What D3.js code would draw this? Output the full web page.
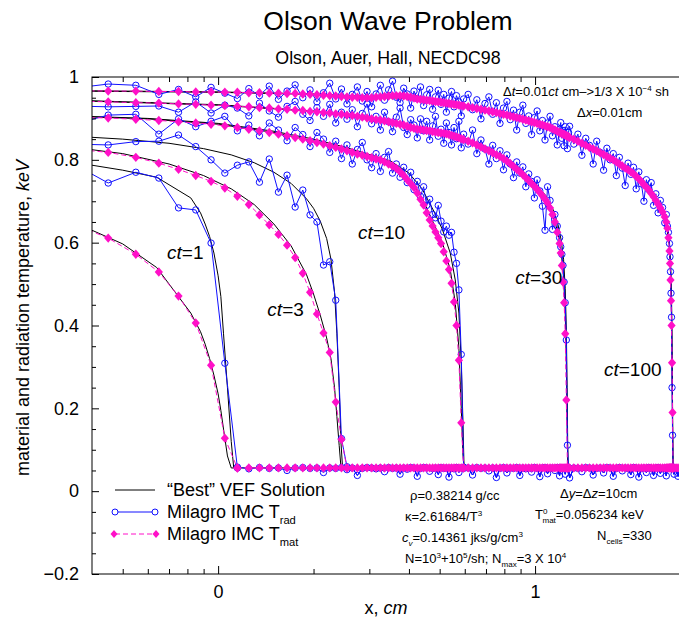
<!DOCTYPE html>
<html>
<head>
<meta charset="utf-8">
<script src="https://d3js.org/d3.v7.min.js"></script>
<style type="text/css">
body { margin: 0; background: #fff; }
text { font-family: "Liberation Sans", Arial, Helvetica, sans-serif; fill: #000; }
.vef { stroke: #000; stroke-width: 1; fill: none; }
.rad { stroke: #1010ff; stroke-width: 1; fill: none; }
.mat { stroke: #ff10c8; stroke-width: 1; fill: none; stroke-dasharray: 5,3; }
</style>
</head>
<body>
<script type="text/javascript">
// cell centres used for the Milagro points (cm)
var xs = [0.35,0.45,0.55,0.65,0.75,0.85,0.95,1.05,1.15,1.25,
	1.35,1.45,1.55,1.65,1.75,1.85,1.95,2.05,2.15,2.25,
	2.35,2.45,2.55,2.65,2.75,2.85,2.95,3.05,3.15,3.25,
	3.35,3.45,3.55,3.65,3.75,3.85,3.95,4.05,4.15,4.25,
	4.35,4.45,4.55,4.65,4.75,4.85,4.95,5.05,5.15,5.25,
	5.35,5.45,5.55,5.65,5.75,5.85,5.95,
	6.15,6.35,6.55,6.75,6.95,7.15,7.35,7.55,7.75,7.95,
	8.15,8.35,8.55,8.75,8.95,9.15,9.35,9.55,9.75,9.95,
	10.15,10.35,10.55,10.75,10.95,11.15,11.35,11.55,11.75,11.95,
	12.05,12.15,12.25,12.35,12.45,12.55,12.65,12.75,12.85,
	13.25,13.65,14.05,14.45,14.85,15.25,15.65,16.05,16.45,16.85,
	17.25,17.65,18.05,18.45,18.85,19.25,19.65,20.05,20.45,20.85,
	21.25,21.65,22.05,22.45,22.85,23.25,23.65,24.05,24.45,24.85,
	25.25,25.65,
	25.95,26.15,26.35,26.55,26.65,26.75,26.85,26.95,27.05,27.15,
	27.25,27.45,27.85,28.25,28.65,29.05];

// Milagro T_mat, one value per cell up to the front
var mat1 = [0.645,0.611,0.572,0.529,0.471,0.406,0.304,0.128,0.056];
var mat3 = [0.826,0.818,0.806,0.792,0.777,0.762,0.748,0.732,0.712,0.692,
	0.667,0.643,0.620,0.594,0.564,0.526,0.480,0.428,0.382,0.335,
	0.215,0.125,0.056];
var mat10 = [0.903,0.901,0.898,0.895,0.892,0.889,0.886,0.882,0.878,0.874,
	0.870,0.866,0.862,0.858,0.854,0.850,0.846,0.842,0.838,0.834,
	0.830,0.826,0.822,0.818,0.814,0.811,0.808,0.805,0.802,0.800,
	0.795,0.790,0.785,0.779,0.771,0.762,0.752,0.743,0.733,0.720,
	0.705,0.691,0.672,0.655,0.640,0.626,0.612,0.598,0.578,0.556,
	0.535,0.502,0.457,0.400,0.316,0.165,0.056];
var mat30 = [0.942,0.940,0.938,0.937,0.935,0.934,0.932,0.931,0.929,0.928,
	0.926,0.925,0.923,0.922,0.920,0.919,0.917,0.916,0.914,0.913,
	0.911,0.910,0.908,0.907,0.905,0.903,0.901,0.899,0.897,0.896,
	0.894,0.892,0.890,0.888,0.886,0.884,0.881,0.878,0.876,0.874,
	0.873,0.872,0.871,0.870,0.868,0.867,0.866,0.865,0.864,0.863,
	0.861,0.859,0.857,0.855,0.853,0.851,0.849,
	0.845,0.841,0.836,0.831,0.826,0.822,0.817,0.812,0.808,0.803,
	0.797,0.791,0.784,0.777,0.771,0.764,0.757,0.750,0.743,0.736,
	0.729,0.721,0.713,0.705,0.696,0.684,0.668,0.650,0.625,0.598,
	0.575,0.545,0.505,0.455,0.380,0.220,0.056];
var mat100 = [0.967,0.966,0.966,0.965,0.965,0.964,0.964,0.963,0.963,0.962,
	0.962,0.961,0.961,0.960,0.960,0.959,0.958,0.957,0.956,0.955,
	0.954,0.953,0.952,0.951,0.951,0.950,0.950,0.950,0.951,0.952,
	0.953,0.954,0.955,0.955,0.955,0.954,0.953,0.951,0.949,0.947,
	0.946,0.945,0.944,0.943,0.942,0.941,0.940,0.939,0.938,0.937,
	0.936,0.935,0.934,0.933,0.932,0.931,0.930,
	0.928,0.926,0.924,0.922,0.920,0.918,0.916,0.914,0.912,0.910,
	0.908,0.906,0.904,0.902,0.900,0.898,0.896,0.894,0.892,0.890,
	0.888,0.886,0.884,0.882,0.880,0.878,0.875,0.872,0.869,0.866,
	0.865,0.864,0.862,0.861,0.860,0.858,0.857,0.856,0.854,
	0.850,0.845,0.840,0.835,0.830,0.826,0.822,0.817,0.813,0.808,
	0.804,0.800,0.795,0.790,0.785,0.780,0.776,0.771,0.766,0.760,
	0.754,0.747,0.740,0.734,0.727,0.719,0.711,0.702,0.693,0.684,
	0.674,0.662,
	0.650,0.635,0.612,0.580,0.550,0.510,0.460,0.400,0.310,0.190,0.056];

// Milagro T_rad
var rad1 = [0.790,0.744,0.770,0.756,0.684,0.679,0.599,0.309,0.058];
var rad3 = [0.838,0.836,0.844,0.845,0.860,0.832,0.800,0.768,0.787,0.795,
	0.746,0.802,0.722,0.763,0.686,0.727,0.667,0.650,0.546,0.554,
	0.461,0.127,0.059];
var rad10 = [0.886,0.908,0.910,0.862,0.899,0.880,0.893,0.905,0.870,0.884,
	0.858,0.889,0.872,0.846,0.878,0.861,0.832,0.866,0.850,0.818,
	0.845,0.803,0.836,0.790,0.825,0.842,0.800,0.781,0.815,0.772,
	0.806,0.820,0.768,0.790,0.758,0.782,0.745,0.770,0.728,0.748,
	0.712,0.735,0.690,0.705,0.668,0.660,0.690,0.652,0.626,0.640,
	0.618,0.625,0.577,0.550,0.486,0.330,0.058];
var rad30 = [0.930,0.928,0.929,0.930,0.915,0.940,0.913,0.932,0.925,0.906,
	0.937,0.918,0.903,0.929,0.941,0.910,0.895,0.926,0.905,0.934,
	0.889,0.915,0.898,0.921,0.880,0.912,0.935,0.887,0.905,0.872,
	0.915,0.892,0.868,0.903,0.925,0.878,0.861,0.897,0.884,0.853,
	0.899,0.870,0.893,0.848,0.882,0.905,0.857,0.874,0.840,0.889,
	0.866,0.836,0.878,0.851,0.893,0.829,0.862,
	0.838,0.872,0.815,0.848,0.826,0.790,0.835,0.803,0.822,0.776,
	0.812,0.790,0.757,0.795,0.768,0.783,0.735,0.766,0.748,0.708,
	0.752,0.725,0.688,0.630,0.735,0.702,0.632,0.668,0.640,0.612,
	0.590,0.572,0.545,0.505,0.455,0.365,0.111];
var rad100 = [0.973,0.983,0.980,0.958,0.970,0.952,0.975,0.961,0.948,0.972,
	0.955,0.978,0.946,0.966,0.981,0.950,0.969,0.940,0.962,0.985,
	0.947,0.971,0.935,0.958,0.976,0.942,0.965,0.928,0.959,0.980,
	0.944,0.969,0.990,0.951,0.938,0.973,0.959,0.925,0.966,0.948,
	0.976,0.931,0.957,0.970,0.922,0.952,0.968,0.934,0.958,0.915,
	0.949,0.965,0.928,0.955,0.940,0.906,0.947,
	0.958,0.921,0.945,0.899,0.936,0.952,0.910,0.938,0.888,0.925,
	0.941,0.897,0.920,0.872,0.915,0.932,0.888,0.906,0.861,0.902,
	0.918,0.870,0.895,0.848,0.889,0.905,0.858,0.880,0.836,0.874,
	0.890,0.852,0.871,0.834,0.880,0.860,0.827,0.866,0.881,
	0.838,0.862,0.811,0.852,0.835,0.790,0.845,0.818,0.775,0.828,
	0.800,0.815,0.762,0.806,0.780,0.738,0.792,0.765,0.782,0.730,
	0.771,0.742,0.700,0.752,0.728,0.745,0.690,0.718,0.672,0.702,
	0.685,0.648,
	0.668,0.640,0.625,0.598,0.566,0.530,0.478,0.420,0.250,0.135,0.058];

// unheated medium ahead of the fronts (cells from x = 1.15 on)
var T0mat = 0.056234;
var tailRad = [0.056,0.054,0.057,0.055,0.056,0.050,0.056,0.057,0.055,0.056,
	0.045,0.056,0.055,0.057,0.052,0.056,0.038,0.055,0.057,0.056,
	0.054,0.056,0.047,0.057,0.055,0.056,0.041,0.056,0.053,0.057,
	0.056,0.036,0.055,0.057,0.056,0.048,0.055,0.056,0.040,0.057,
	0.055,0.056,0.034,0.056,0.054,0.057,0.045,0.056,0.055,0.056,
	0.039,0.057,0.055,0.056,0.049,0.056,0.033,0.055,0.057,0.044,
	0.056,0.055,0.057,0.038,0.056,0.054,0.056,0.046,0.057,0.055,
	0.035,0.056,0.057,0.042,0.055,0.056,0.050,0.057,0.037,0.056,
	0.055,0.057,0.056,0.041,0.055,0.056,0.057,0.032,0.056,0.055,
	0.047,0.057,0.056,0.039,0.055,0.056,0.044,0.057,0.056,0.036,
	0.055,0.057,0.049,0.056,0.055,0.040,0.057,0.056,0.034,0.055,
	0.056,0.045,0.057,0.055,0.038,0.056,0.057,0.043,0.055,0.056,
	0.037,0.056,0.055,0.057,0.056,0.055,0.057,0.056,0.055,0.057,
	0.056,0.041,0.055,0.036,0.056,0.057];

// "Best" VEF solution (T_rad and T_mat)
var vefX1 = [0.35,0.4,0.5,0.64,0.82,0.88,0.91,0.94,0.97,1.0,1.02,1.04,1.07,1.1,1.12];
var vefRad1 = [0.800,0.787,0.775,0.758,0.708,0.672,0.645,0.615,0.575,0.520,0.470,0.380,0.250,0.120,0.056];
var vefMat1 = [0.648,0.630,0.597,0.540,0.430,0.385,0.355,0.320,0.280,0.235,0.195,0.150,0.085,0.056,0.056];
var vefX3 = [0.35,0.5,0.7,0.9,1.1,1.3,1.5,1.7,1.9,2.0,2.1,2.2,2.27,2.33,2.37,2.41,2.44,2.47];
var vefRad3 = [0.857,0.850,0.840,0.827,0.812,0.793,0.770,0.743,0.706,0.683,0.652,0.610,0.560,0.480,0.380,0.250,0.120,0.056];
var vefMat3 = [0.830,0.815,0.790,0.762,0.730,0.692,0.645,0.592,0.523,0.476,0.425,0.370,0.320,0.250,0.180,0.110,0.060,0.056];
var vefX10 = [0.35,0.6,1,1.5,2,2.5,3,3.5,4,4.4,4.8,5.1,5.4,5.6,5.75,5.85,5.92,5.97];
var vefRad10 = [0.906,0.900,0.888,0.869,0.850,0.831,0.813,0.797,0.768,0.730,0.675,0.632,0.575,0.510,0.430,0.310,0.170,0.056];
var vefMat10 = [0.905,0.899,0.886,0.866,0.846,0.826,0.808,0.790,0.755,0.708,0.645,0.600,0.535,0.455,0.345,0.200,0.090,0.056];
var vefX30 = [0.35,1,2,3,4,5,6,7,8,9,10,10.8,11.4,11.8,12.1,12.3,12.45,12.55,12.62,12.7];
var vefRad30 = [0.944,0.933,0.918,0.902,0.883,0.869,0.853,0.830,0.807,0.778,0.744,0.714,0.680,0.645,0.605,0.560,0.490,0.390,0.250,0.056];
var vefMat30 = [0.943,0.932,0.917,0.900,0.880,0.866,0.850,0.826,0.802,0.772,0.736,0.703,0.665,0.625,0.575,0.515,0.430,0.310,0.170,0.056];
var vefX100 = [0.35,1,2,3,4,5,6,8,10,12,14,16,18,20,22,24,25,26,26.5,26.8,27.0,27.1,27.25];
var vefRad100 = [0.967,0.964,0.959,0.953,0.949,0.941,0.932,0.912,0.893,0.870,0.845,0.821,0.800,0.777,0.751,0.713,0.690,0.652,0.612,0.545,0.430,0.290,0.056];
var vefMat100 = [0.966,0.963,0.958,0.952,0.948,0.940,0.931,0.911,0.891,0.868,0.842,0.818,0.796,0.772,0.745,0.705,0.680,0.640,0.595,0.520,0.380,0.220,0.056];

var ctNames = ["1","3","10","30","100"];
var ctLabelAt = [[0.69,0.56],[1.43,0.423],[2.765,0.609],[8.66,0.50],[16.5,0.278]];

var xMajor = [1,10];
var xMinor = [0.5,0.6,0.7,0.8,0.9,2,3,4,5,6,7,8,9];
var yMajor = [-0.2,0,0.2,0.4,0.6,0.8,1];
var yMinor = [-0.15,-0.1,-0.05,0.05,0.1,0.15,0.25,0.3,0.35,0.45,0.5,0.55,0.65,0.7,0.75,0.85,0.9,0.95];

var width = 679, height = 624;
var pL = 92, pR = 680, pT = 77, pB = 574;
var blue = "#1010ff", pink = "#ff10c8";

var svg = d3.select("body").append("svg").attr("width", width).attr("height", height);
var x = d3.scaleLog().domain([0.4, 28.66]).range([pL, pR]);
var y = d3.scaleLinear().domain([-0.2, 1]).range([pB, pT]);

svg.append("clipPath").attr("id", "clip").append("rect")
	.attr("x", pL).attr("y", pT).attr("width", pR - pL).attr("height", pB - pT);

var line = d3.line().x(function(d) { return x(d[0]); }).y(function(d) { return y(d[1]); });
var diamond = "M0,-4.7L4.1,0L0,4.7L-4.1,0Z";

var plot = svg.append("g").attr("clip-path", "url(#clip)");

var runs = [
	{ rad: rad1, mat: mat1, vx: vefX1, vr: vefRad1, vm: vefMat1 },
	{ rad: rad3, mat: mat3, vx: vefX3, vr: vefRad3, vm: vefMat3 },
	{ rad: rad10, mat: mat10, vx: vefX10, vr: vefRad10, vm: vefMat10 },
	{ rad: rad30, mat: mat30, vx: vefX30, vr: vefRad30, vm: vefMat30 },
	{ rad: rad100, mat: mat100, vx: vefX100, vr: vefRad100, vm: vefMat100 }
];
var tailX = xs.slice(8);
var tailR = d3.zip(tailX, tailRad);
var tailM = tailX.map(function(v) { return [v, T0mat]; });

// black VEF curves underneath
runs.forEach(function(r) {
	plot.append("path").datum(d3.zip(r.vx, r.vr)).attr("class", "vef").attr("d", line);
	plot.append("path").datum(d3.zip(r.vx, r.vm)).attr("class", "vef").attr("d", line);
});
plot.append("path").datum(tailM).attr("class", "vef").attr("d", line);

function withTail(own, tail) {
	var last = own[own.length - 1][0];
	return own.concat(tail.filter(function(d) { return d[0] > last; }));
}

// Milagro T_rad: blue circles
runs.forEach(function(r) {
	var own = d3.zip(xs.slice(0, r.rad.length), r.rad);
	plot.append("path").datum(withTail(own, tailR)).attr("class", "rad").attr("d", line);
	plot.append("g").selectAll("circle").data(own).enter().append("circle")
		.attr("cx", function(d) { return x(d[0]); })
		.attr("cy", function(d) { return y(d[1]); })
		.attr("r", 3.2).attr("fill", "none").attr("stroke", blue).attr("stroke-width", 1);
});
plot.append("g").selectAll("circle").data(tailR).enter().append("circle")
	.attr("cx", function(d) { return x(d[0]); })
	.attr("cy", function(d) { return y(d[1]); })
	.attr("r", 3.2).attr("fill", "none").attr("stroke", blue).attr("stroke-width", 1);

// Milagro T_mat: pink diamonds, dashed
runs.forEach(function(r) {
	var own = d3.zip(xs.slice(0, r.mat.length), r.mat);
	plot.append("path").datum(withTail(own, tailM)).attr("class", "mat").attr("d", line);
	plot.append("g").selectAll("path").data(own).enter().append("path")
		.attr("d", diamond).attr("fill", pink)
		.attr("transform", function(d) { return "translate(" + x(d[0]) + "," + y(d[1]) + ")"; });
});
plot.append("g").selectAll("path").data(tailM).enter().append("path")
	.attr("d", diamond).attr("fill", pink)
	.attr("transform", function(d) { return "translate(" + x(d[0]) + "," + y(d[1]) + ")"; });

// frame and ticks
svg.append("rect").attr("x", pL).attr("y", pT).attr("width", pR - pL).attr("height", pB - pT)
	.attr("fill", "none").attr("stroke", "#000").attr("stroke-width", 1);

function styleAxis(g, size) {
	g.select(".domain").remove();
	g.selectAll("text").attr("font-size", size).attr("font-family", "Liberation Sans, Arial, sans-serif");
	g.selectAll("line").attr("stroke", "#000");
}
var fmtX = function(d) { return String(Math.round(Math.log10(d))); };
svg.append("g").attr("transform", "translate(0," + pB + ")")
	.call(d3.axisBottom(x).tickValues(xMajor).tickFormat(fmtX).tickSize(-8).tickPadding(11))
	.call(styleAxis, 18);
svg.append("g").attr("transform", "translate(0," + pB + ")")
	.call(d3.axisBottom(x).tickValues(xMinor).tickFormat("").tickSize(-5))
	.call(styleAxis, 18);
svg.append("g").attr("transform", "translate(0," + pT + ")")
	.call(d3.axisTop(x).tickValues(xMajor).tickFormat("").tickSize(-8))
	.call(styleAxis, 18);
svg.append("g").attr("transform", "translate(0," + pT + ")")
	.call(d3.axisTop(x).tickValues(xMinor).tickFormat("").tickSize(-5))
	.call(styleAxis, 18);
svg.append("g").attr("transform", "translate(" + pL + ",0)")
	.call(d3.axisLeft(y).tickValues(yMajor).tickFormat(d3.format("")).tickSize(-7).tickPadding(13))
	.call(styleAxis, 18);
svg.append("g").attr("transform", "translate(" + pL + ",0)")
	.call(d3.axisLeft(y).tickValues(yMinor).tickFormat("").tickSize(-4))
	.call(styleAxis, 18);

// text with italic / super / subscript parts
function rich(px, py, size, parts, anchor) {
	var t = svg.append("text").attr("x", px).attr("y", py).attr("font-size", size);
	if (anchor) t.attr("text-anchor", anchor);
	var off = 0;
	parts.forEach(function(p) {
		var s = p[0], k = (p[1] || "").split(" ");
		var target = 0, fs = size;
		if (k.indexOf("sup") >= 0) { target = -0.42 * size; fs = size * 0.62; }
		if (k.indexOf("sub") >= 0) { target = 0.32 * size; fs = size * 0.62; }
		var ts = t.append("tspan").attr("dy", target - off).attr("font-size", fs).text(s);
		if (k.indexOf("it") >= 0) ts.attr("font-style", "italic");
		if (p[2]) ts.attr("dx", p[2]);
		off = target;
	});
	return t;
}

svg.append("text").attr("x", 388).attr("y", 30).attr("text-anchor", "middle")
	.attr("font-size", 26.5).text("Olson Wave Problem");
svg.append("text").attr("x", 388).attr("y", 64).attr("text-anchor", "middle")
	.attr("font-size", 17.8).text("Olson, Auer, Hall, NECDC98");

rich(386, 614, 18, [["x, "], ["cm", "it"]], "middle");
rich(0, 0, 18, [["material and radiation temperature, "], ["keV", "it"]], "middle")
	.attr("transform", "translate(29,318) rotate(-90)");

ctNames.forEach(function(n, i) {
	rich(x(ctLabelAt[i][0]), y(ctLabelAt[i][1]), 19, [["ct", "it"], ["=" + n]]);
});

rich(503, 96, 13, [["\u0394"], ["t", "it"], ["=0.01"], ["ct", "it"], [" cm\u2013>1/3 X 10"], ["\u22124", "sup"], [" sh"]]);
rich(577, 117, 13, [["\u0394"], ["x", "it"], ["=0.01cm"]]);

rich(410, 500, 13, [["\u03c1=0.38214 g/cc"]]);
rich(405, 521, 13, [["\u03ba=2.61684/T"], ["3", "sup"]]);
rich(402, 542, 13, [["c", "it"], ["v", "it sub"], ["=0.14361 jks/g/cm"], ["3", "sup"]]);
rich(405, 563, 13, [["N=10"], ["3", "sup"], ["+10"], ["5", "sup"], ["/sh; N"], ["max", "sub"], ["=3 X 10"], ["4", "sup"]]);
rich(560, 498, 13, [["\u0394"], ["y", "it"], ["=\u0394"], ["z", "it"], ["=10cm"]]);
rich(535, 519, 13, [["T"], ["0", "sup"], ["mat", "sub", -5], ["=0.056234 keV"]]);
rich(597, 540, 13, [["N"], ["cells", "sub"], ["=330"]]);

// legend
var legY = [490, 512, 534];
var lg = svg.append("g");
lg.append("line").attr("x1", 115).attr("x2", 155).attr("y1", legY[0]).attr("y2", legY[0])
	.attr("stroke", "#000").attr("stroke-width", 1);
lg.append("line").attr("x1", 115).attr("x2", 155).attr("y1", legY[1]).attr("y2", legY[1])
	.attr("stroke", blue).attr("stroke-width", 1);
[115, 155].forEach(function(px) {
	lg.append("circle").attr("cx", px).attr("cy", legY[1]).attr("r", 3)
		.attr("fill", "#fff").attr("stroke", blue).attr("stroke-width", 1);
});
lg.append("line").attr("x1", 115).attr("x2", 155).attr("y1", legY[2]).attr("y2", legY[2])
	.attr("stroke", pink).attr("stroke-width", 1).attr("stroke-dasharray", "5,3");
[114, 156].forEach(function(px) {
	lg.append("path").attr("d", diamond).attr("fill", pink)
		.attr("transform", "translate(" + px + "," + legY[2] + ") scale(0.85)");
});
rich(167, legY[0] + 6, 18, [["\u201cBest\u201d VEF Solution"]]);
rich(167, legY[1] + 6, 18, [["Milagro IMC T"], ["rad", "sub"]]);
rich(167, legY[2] + 6, 18, [["Milagro IMC T"], ["mat", "sub"]]);
</script>
</body>
</html>
